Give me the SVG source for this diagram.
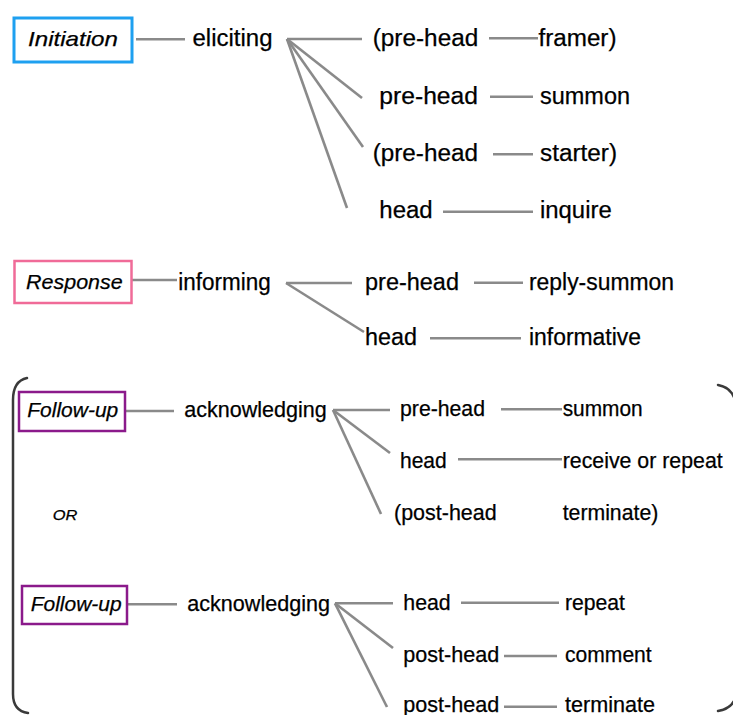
<svg xmlns="http://www.w3.org/2000/svg" width="733" height="715" viewBox="0 0 733 715">
  <style>
    text { font-family: "Liberation Sans", Arial, sans-serif; fill: #000; stroke: #000; stroke-width: 0.25; }
    .big { font-size: 23.5px; }
    .mid { font-size: 21.5px; }
    .lab { font-size: 21px; font-style: italic; }
    .or { font-size: 15px; font-style: italic; }
    .box { fill: #fff; }
    .init { stroke: #1ea0f0; stroke-width: 3; }
    .resp { stroke: #f06b98; stroke-width: 2.5; }
    .foll { stroke: #8b1a8b; stroke-width: 2.5; }
    .conn line { stroke: #8a8a8a; stroke-width: 2.6; }
    .brace { fill: none; stroke: #3a3a3a; stroke-width: 2.5; stroke-linecap: round; }
  </style>
  <rect width="733" height="715" fill="#fff"/>

  <!-- connectors -->
  <g id="connectors" class="conn">
    <line x1="136" y1="39.3" x2="185" y2="39.3"/>
    <line x1="287" y1="39" x2="362" y2="39"/>
    <line x1="287" y1="39" x2="362" y2="98"/>
    <line x1="287" y1="39" x2="363" y2="147"/>
    <line x1="287" y1="39" x2="347" y2="208"/>
    <line x1="489" y1="38.3" x2="538" y2="38.3"/>
    <line x1="490" y1="96.7" x2="533" y2="96.7"/>
    <line x1="493" y1="154.3" x2="533" y2="154.3"/>
    <line x1="443" y1="211.7" x2="533" y2="211.7"/>

    <line x1="132" y1="280" x2="177" y2="280"/>
    <line x1="286" y1="283" x2="352" y2="283"/>
    <line x1="286" y1="283" x2="364" y2="332"/>
    <line x1="474" y1="282.7" x2="523" y2="282.7"/>
    <line x1="430" y1="338.3" x2="521" y2="338.3"/>

    <line x1="126" y1="411" x2="174" y2="411"/>
    <line x1="333" y1="410" x2="390" y2="410"/>
    <line x1="333" y1="410" x2="390" y2="453"/>
    <line x1="333" y1="410" x2="381" y2="514"/>
    <line x1="501" y1="409.3" x2="562" y2="409.3"/>
    <line x1="458" y1="459.3" x2="562" y2="459.3"/>

    <line x1="128" y1="604.3" x2="177" y2="604.3"/>
    <line x1="335" y1="603.3" x2="393" y2="603.3"/>
    <line x1="335" y1="603.3" x2="393" y2="648"/>
    <line x1="335" y1="603.3" x2="387" y2="707"/>
    <line x1="461" y1="602.7" x2="559" y2="602.7"/>
    <line x1="504" y1="656" x2="557" y2="656"/>
    <line x1="504" y1="706.7" x2="557" y2="706.7"/>
  </g>

  <!-- brackets round the two follow-up alternatives -->
  <g id="brackets">
    <path class="brace" d="M27 378 Q13 381 13 400 L13 694 Q13 711 28 713"/>
    <path class="brace" d="M718 385 Q731 387 735 400 M735 699 Q731 709 718 711"/>
  </g>

  <!-- initiation move -->
  <g id="initiation">
    <rect class="box init" x="14" y="18" width="118" height="44"/>
    <text class="lab" x="28" y="46" textLength="90" lengthAdjust="spacingAndGlyphs">Initiation</text>
  </g>
  <g id="eliciting">
    <text class="big" x="192.5" y="46" textLength="80" lengthAdjust="spacingAndGlyphs">eliciting</text>
  </g>
  <g id="elicit-row1">
    <text class="big" x="372.7" y="46" textLength="105.6" lengthAdjust="spacingAndGlyphs">(pre-head</text>
    <text class="big" x="538.5" y="46" textLength="78" lengthAdjust="spacingAndGlyphs">framer)</text>
  </g>
  <g id="elicit-row2">
    <text class="big" x="379.3" y="104" textLength="98.7" lengthAdjust="spacingAndGlyphs">pre-head</text>
    <text class="big" x="540" y="104" textLength="90" lengthAdjust="spacingAndGlyphs">summon</text>
  </g>
  <g id="elicit-row3">
    <text class="big" x="372.7" y="161" textLength="105.3" lengthAdjust="spacingAndGlyphs">(pre-head</text>
    <text class="big" x="540" y="161" textLength="77" lengthAdjust="spacingAndGlyphs">starter)</text>
  </g>
  <g id="elicit-row4">
    <text class="big" x="379.3" y="218" textLength="53.4" lengthAdjust="spacingAndGlyphs">head</text>
    <text class="big" x="540" y="218" textLength="71.7" lengthAdjust="spacingAndGlyphs">inquire</text>
  </g>

  <!-- response move -->
  <g id="response">
    <rect class="box resp" x="14.5" y="261" width="117" height="42"/>
    <text class="lab" x="26" y="288.5" textLength="96.7" lengthAdjust="spacingAndGlyphs">Response</text>
  </g>
  <g id="informing">
    <text class="big" x="178.3" y="290" textLength="92.4" lengthAdjust="spacingAndGlyphs">informing</text>
  </g>
  <g id="inform-row1">
    <text class="big" x="365" y="290" textLength="94" lengthAdjust="spacingAndGlyphs">pre-head</text>
    <text class="big" x="529" y="290" textLength="145" lengthAdjust="spacingAndGlyphs">reply-summon</text>
  </g>
  <g id="inform-row2">
    <text class="big" x="365" y="345" textLength="52" lengthAdjust="spacingAndGlyphs">head</text>
    <text class="big" x="529" y="345" textLength="112" lengthAdjust="spacingAndGlyphs">informative</text>
  </g>

  <!-- follow-up move, first alternative -->
  <g id="followup1">
    <rect class="box foll" x="19" y="392" width="106" height="39"/>
    <text class="lab" x="27.3" y="416.5" textLength="91" lengthAdjust="spacingAndGlyphs">Follow-up</text>
  </g>
  <g id="acknowledging1">
    <text class="mid" x="184.3" y="417" textLength="142.4" lengthAdjust="spacingAndGlyphs">acknowledging</text>
  </g>
  <g id="ack1-row1">
    <text class="mid" x="400" y="416" textLength="85" lengthAdjust="spacingAndGlyphs">pre-head</text>
    <text class="mid" x="562.7" y="416" textLength="80" lengthAdjust="spacingAndGlyphs">summon</text>
  </g>
  <g id="ack1-row2">
    <text class="mid" x="400" y="468" textLength="46.7" lengthAdjust="spacingAndGlyphs">head</text>
    <text class="mid" x="562.7" y="468" textLength="160" lengthAdjust="spacingAndGlyphs">receive or repeat</text>
  </g>
  <g id="ack1-row3">
    <text class="mid" x="394" y="520" textLength="102.7" lengthAdjust="spacingAndGlyphs">(post-head</text>
    <text class="mid" x="562.7" y="520" textLength="95.6" lengthAdjust="spacingAndGlyphs">terminate)</text>
  </g>

  <g id="or">
    <text class="or" x="52.7" y="520" textLength="24.6" lengthAdjust="spacingAndGlyphs">OR</text>
  </g>

  <!-- follow-up move, second alternative -->
  <g id="followup2">
    <rect class="box foll" x="22" y="586" width="105" height="38"/>
    <text class="lab" x="30.7" y="611" textLength="91" lengthAdjust="spacingAndGlyphs">Follow-up</text>
  </g>
  <g id="acknowledging2">
    <text class="mid" x="187.3" y="610.5" textLength="142.7" lengthAdjust="spacingAndGlyphs">acknowledging</text>
  </g>
  <g id="ack2-row1">
    <text class="mid" x="403.3" y="610" textLength="47.4" lengthAdjust="spacingAndGlyphs">head</text>
    <text class="mid" x="565" y="610" textLength="60" lengthAdjust="spacingAndGlyphs">repeat</text>
  </g>
  <g id="ack2-row2">
    <text class="mid" x="403.3" y="662" textLength="96" lengthAdjust="spacingAndGlyphs">post-head</text>
    <text class="mid" x="565" y="662" textLength="86.7" lengthAdjust="spacingAndGlyphs">comment</text>
  </g>
  <g id="ack2-row3">
    <text class="mid" x="403.3" y="712" textLength="96" lengthAdjust="spacingAndGlyphs">post-head</text>
    <text class="mid" x="565" y="712" textLength="90" lengthAdjust="spacingAndGlyphs">terminate</text>
  </g>
</svg>
